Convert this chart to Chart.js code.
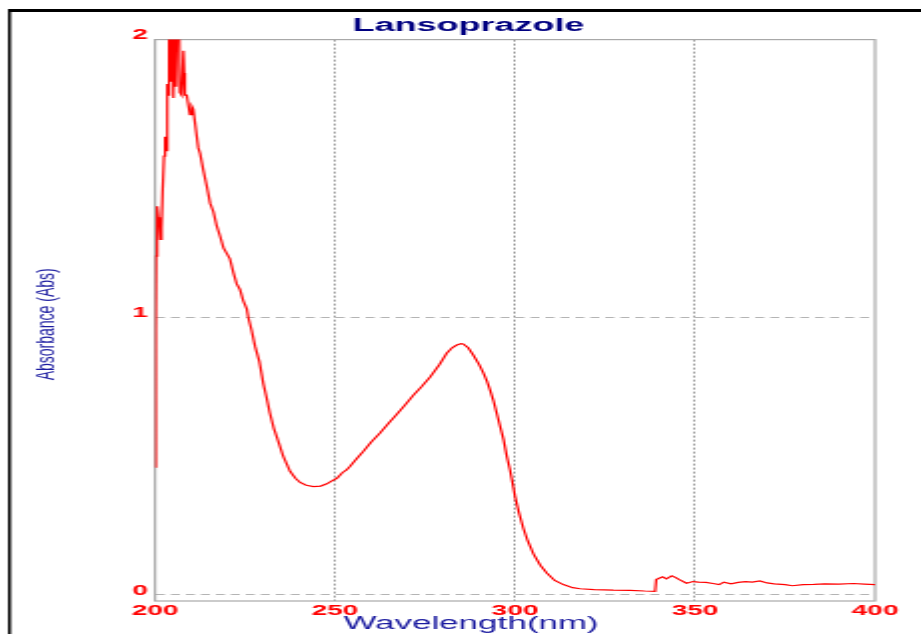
<!DOCTYPE html>
<html lang="en">
<head>
  <meta charset="UTF-8" />
  <title>Lansoprazole</title>
  <script src="https://cdn.jsdelivr.net/npm/chart.js"></script>
  <style>
    body {
      margin: 0;
      background: #fff;
      overflow: hidden;
    }
    canvas {
      display: block;
    }
  </style>
</head>
<body>
  <!-- drawn narrow and stretched wide, like the scanned original -->
  <canvas id="spectrum" width="461" height="634" style="width:921px;height:634px"></canvas>

  <script>
    const chartTitle = 'Lansoprazole';
    const xTitle = 'Wavelength(nm)';
    const yTitle = 'Absorbance (Abs)';
    const xTicks = [200, 250, 300, 350, 400];
    const yTicks = [0, 1, 2];

    const wavelength = [200.0, 200.2, 200.3, 200.5, 200.7, 200.9, 201.2, 201.5, 201.8, 202.1, 202.5, 202.8, 203.1, 203.4, 203.7, 203.9, 204.2, 204.6, 205.1, 205.6, 205.8, 206.5, 206.9, 207.4, 207.9, 208.1, 208.3, 208.8, 209.3, 209.7, 210.2, 210.6, 211.1, 211.6, 212.0, 212.5, 213.4, 214.4, 215.3, 216.2, 217.1, 218.1, 219.0, 219.9, 220.8, 221.8, 222.7, 223.6, 224.5, 225.5, 225.9, 226.8, 227.8, 229.0, 230.1, 231.0, 231.9, 233.0, 233.8, 235.6, 237.5, 239.0, 240.3, 242.0, 244.0, 246.0, 247.7, 249.0, 250.5, 252.0, 253.2, 254.2, 256.0, 257.9, 260.0, 262.5, 265.0, 267.1, 269.5, 271.8, 274.0, 276.4, 279.0, 281.0, 282.5, 283.8, 285.0, 285.6, 287.0, 288.4, 290.0, 291.2, 292.2, 293.0, 294.0, 294.9, 296.0, 296.8, 297.7, 298.6, 299.5, 300.0, 301.0, 302.3, 303.5, 305.1, 307.0, 308.8, 311.0, 313.4, 316.0, 318.1, 322.0, 327.3, 332.0, 336.0, 338.9, 339.2, 340.0, 341.0, 342.0, 343.5, 344.5, 345.5, 347.6, 349.4, 351.0, 353.0, 355.0, 356.7, 358.0, 360.0, 362.0, 364.0, 365.9, 368.0, 370.0, 372.0, 375.0, 377.0, 380.0, 383.0, 386.0, 390.0, 394.0, 397.0, 400.0];

    const absorbance = [0.46, 0.95, 1.22, 1.25, 1.40, 1.36, 1.34, 1.28, 1.32, 1.45, 1.58, 1.65, 1.60, 1.84, 1.80, 2.30, 1.85, 2.30, 1.79, 2.30, 1.83, 2.30, 1.81, 1.80, 1.96, 1.88, 1.80, 1.80, 1.76, 1.73, 1.76, 1.75, 1.70, 1.65, 1.61, 1.59, 1.53, 1.47, 1.41, 1.38, 1.33, 1.29, 1.25, 1.23, 1.21, 1.16, 1.12, 1.10, 1.06, 1.03, 1.00, 0.955, 0.895, 0.84, 0.76, 0.71, 0.655, 0.60, 0.57, 0.50, 0.445, 0.42, 0.405, 0.395, 0.39, 0.392, 0.40, 0.41, 0.42, 0.44, 0.45, 0.463, 0.49, 0.517, 0.55, 0.583, 0.62, 0.65, 0.685, 0.72, 0.75, 0.785, 0.83, 0.87, 0.89, 0.90, 0.905, 0.904, 0.89, 0.864, 0.83, 0.80, 0.77, 0.74, 0.70, 0.655, 0.60, 0.56, 0.50, 0.45, 0.39, 0.355, 0.30, 0.24, 0.195, 0.148, 0.107, 0.079, 0.052, 0.037, 0.026, 0.022, 0.019, 0.017, 0.016, 0.014, 0.013, 0.055, 0.06, 0.065, 0.058, 0.069, 0.063, 0.056, 0.042, 0.048, 0.046, 0.045, 0.041, 0.037, 0.046, 0.04, 0.045, 0.048, 0.046, 0.05, 0.043, 0.04, 0.037, 0.033, 0.037, 0.038, 0.04, 0.039, 0.041, 0.039, 0.037];

    const canvas = document.getElementById('spectrum');
    const S = 921 / canvas.width; // horizontal stretch of the canvas on screen
    const fontFamily = '"Liberation Sans", Arial, Helvetica, sans-serif';

    // black page frame and the grey plot box
    const framePlugin = {
      id: 'frame',
      beforeDraw(chart) {
        const c = chart.ctx;
        c.save();
        c.fillStyle = '#000';
        c.fillRect(8 / S, 9, chart.width, 3);
        c.fillRect(8 / S, 9, 3 / S, chart.height);
        c.restore();
      },
      beforeDatasetsDraw(chart) {
        const a = chart.chartArea;
        const c = chart.ctx;
        c.save();
        c.strokeStyle = '#a8a8a8';
        c.lineWidth = 1.2;
        c.strokeRect(a.left, a.top, a.right - a.left, a.bottom - a.top);
        c.restore();
      }
    };

    // axis titles: x is off-centre in the original, y is drawn less stretched
    const axisTitlePlugin = {
      id: 'axisTitles',
      afterDraw(chart) {
        const a = chart.chartArea;
        const c = chart.ctx;
        c.save();
        c.fillStyle = '#1c1ca0';
        c.textAlign = 'center';
        c.textBaseline = 'middle';
        c.font = '17.5px ' + fontFamily;
        c.fillText(xTitle, a.left + 316 / S, a.bottom + 23);
        c.restore();

        c.save();
        c.fillStyle = '#1c1ca0';
        c.textAlign = 'center';
        c.textBaseline = 'middle';
        c.translate(a.left - 108 / S, (a.top + a.bottom) / 2 + 4);
        c.scale(1.9 / S, 1);
        c.rotate(-Math.PI / 2);
        c.font = '14px ' + fontFamily;
        c.fillText(yTitle, 0, 0);
        c.restore();
      }
    };

    const tickFont = { family: fontFamily, size: 14, weight: 'bold' };

    new Chart(canvas.getContext('2d'), {
      type: 'line',
      data: {
        datasets: [{
          data: wavelength.map((w, i) => ({ x: w, y: absorbance[i] })),
          borderColor: '#ff0000',
          borderWidth: 1.2,
          pointRadius: 0,
          tension: 0,
          fill: false
        }]
      },
      options: {
        responsive: false,
        animation: false,
        devicePixelRatio: 1,
        layout: { padding: { left: 31, right: 23, top: 0, bottom: 0 } },
        plugins: {
          legend: { display: false },
          tooltip: { enabled: false },
          title: {
            display: true,
            text: chartTitle,
            color: '#000080',
            font: { family: fontFamily, size: 18, weight: 'bold' },
            padding: { top: 15, bottom: 3 }
          }
        },
        scales: {
          x: {
            type: 'linear',
            min: 200,
            max: 400,
            afterBuildTicks: s => { s.ticks = xTicks.map(v => ({ value: v })); },
            afterFit: s => { s.height = 33; },
            ticks: { color: '#ff0000', font: tickFont, padding: 1.5, maxRotation: 0 },
            grid: {
              drawTicks: false,
              lineWidth: 1,
              color: ctx => (ctx.tick && (ctx.tick.value === 200 || ctx.tick.value === 400)) ? 'rgba(0,0,0,0)' : '#9c9c9c'
            },
            border: { display: false, dash: [2, 2] }
          },
          y: {
            min: -0.022,
            max: 2,
            afterBuildTicks: s => { s.ticks = yTicks.map(v => ({ value: v })); },
            afterFit: s => { s.width = 155 / S - 31; },
            ticks: { color: '#ff0000', font: tickFont, padding: 3.5, labelOffset: -4 },
            grid: {
              drawTicks: false,
              lineWidth: 1,
              color: ctx => (ctx.tick && ctx.tick.value === 2) ? 'rgba(0,0,0,0)' : '#b4b4b4'
            },
            border: { display: false, dash: [4.5, 3] }
          }
        }
      },
      plugins: [framePlugin, axisTitlePlugin]
    });
  </script>
</body>
</html>
